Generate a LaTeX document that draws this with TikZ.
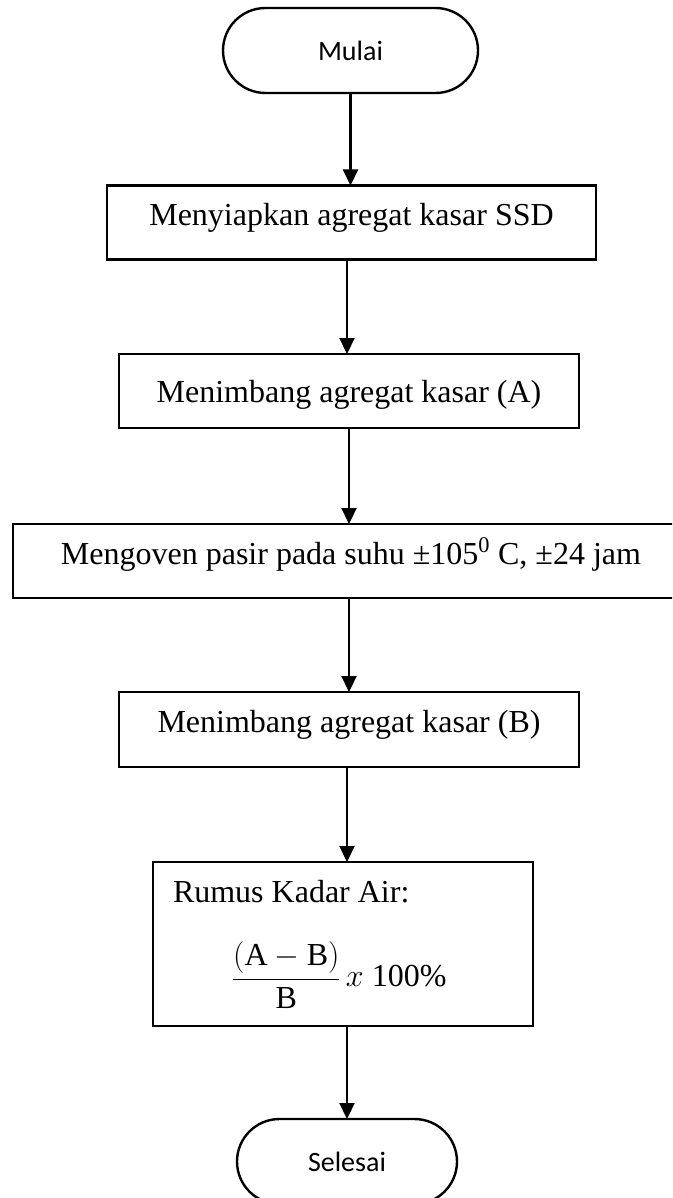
\RequirePackage{fix-cm}
\documentclass[tikz,border=0pt]{standalone}
\usepackage{fontspec}
\setmainfont{Liberation Serif}
\newfontfamily\termfont{Carlito}
\usetikzlibrary{arrows.meta,shapes.misc}

\begin{document}
\begin{tikzpicture}[x=1pt,y=-1pt,
  every node/.style={inner sep=0pt, outer sep=0pt},
  terminal/.style={rounded rectangle, draw, line width=2.4pt, minimum height=85pt,
    font=\termfont\fontsize{28}{32}\selectfont},
  process/.style={rectangle, draw, line width=2.6pt, minimum height=74pt,
    font=\fontsize{32}{38}\selectfont, text height=22pt, text depth=16pt},
  plain/.style={font=\fontsize{32}{38}\selectfont},
  flow/.style={line width=2.2pt, -{Triangle[width=15pt,length=16pt]}}]

  \useasboundingbox (0,0) rectangle (672,1198);
  \clip (0,0) rectangle (672,1198);

  % start / end terminals
  \node[terminal, minimum width=255pt] (mulai) at (350.5,50.5) {Mulai};
  \node[terminal, minimum width=220pt] (selesai) at (347,1161.5) {Selesai};

  % process steps
  \node[process, minimum width=489pt] (s1) at (351.5,222.5) {Menyiapkan agregat kasar SSD};
  \node[process, minimum width=460pt, text height=30pt, text depth=8pt] (s2) at (349,391) {Menimbang agregat kasar (A)};
  \node[process, minimum width=676pt] (s3) at (351,561) {Mengoven pasir pada suhu ±105\textsuperscript{0} C, ±24 jam};
  \node[process, minimum width=460pt, minimum height=75pt] (s4) at (349,729.5) {Menimbang agregat kasar (B)};

  % formula box
  \node[rectangle, draw, line width=2.6pt, minimum width=380pt, minimum height=164pt] (s5) at (343,944) {};
  \node[plain, anchor=base west] (s5title) at (173,902) {Rumus Kadar Air:};
  \node[plain, anchor=west] (s5formula) at (232,975)
    {$\displaystyle\frac{(\mathrm{A}-\mathrm{B})}{\mathrm{B}}\,x\ \mathrm{100\%}$};

  % connectors
  \draw[flow] (mulai.south) -- (mulai.south |- s1.north);
  \draw[flow] ([xshift=-4.5pt]s1.south) -- ([xshift=-4.5pt]s1.south |- s2.north);
  \draw[flow] (s2.south) -- (s2.south |- s3.north);
  \draw[flow] (s4.north |- s3.south) -- (s4.north);
  \draw[flow] ([xshift=-2pt]s4.south) -- ([xshift=-2pt]s4.south |- s5.north);
  \draw[flow] (selesai.north |- s5.south) -- (selesai.north);
\end{tikzpicture}
\end{document}
